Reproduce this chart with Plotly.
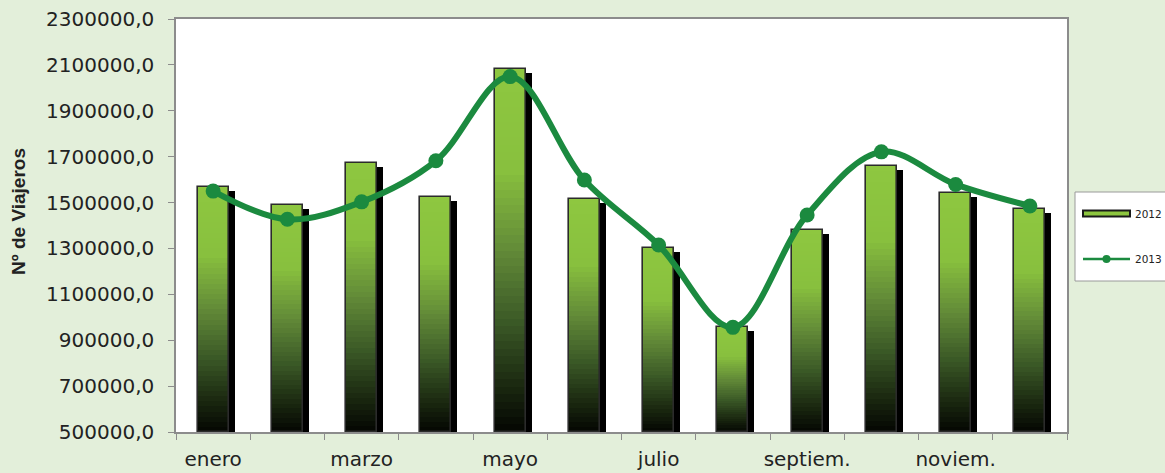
import plotly.graph_objects as go

meses = ["enero", "febrero", "marzo", "abril", "mayo", "junio",
         "julio", "agosto", "septiem.", "octubre", "noviem.", "diciem."]
etiquetas = ["enero", "", "marzo", "", "mayo", "", "julio", "", "septiem.", "", "noviem.", ""]
v2012 = [1569000, 1489000, 1674000, 1525000, 2082000, 1514000,
         1300000, 959000, 1380000, 1660000, 1540000, 1472000]
v2013 = [1550000, 1427000, 1503000, 1682000, 2049000, 1598000,
         1315000, 956000, 1446000, 1721000, 1579000, 1485000]
y_min, y_max, y_step = 500000, 2300000, 200000

BG = "#e3efda"
LINE_C = "#1b8a3f"
FONT = "DejaVu Sans"

W, H = 1165, 473
L, R, T, B = 176, 98, 19, 41
pw, ph = W - L - R, H - T - B
units_per_px = (y_max - y_min) / ph

stops = [(0.0, (4, 6, 2)), (0.12, (25, 38, 15)), (0.3, (58, 88, 38)),
         (0.5, (98, 138, 56)), (0.72, (136, 192, 62)), (1.0, (142, 199, 64))]


def grad(f):
    for (f0, c0), (f1, c1) in zip(stops[:-1], stops[1:]):
        if f <= f1:
            t = (f - f0) / (f1 - f0)
            c = [round(a + (b - a) * t) for a, b in zip(c0, c1)]
            return "rgb(%d,%d,%d)" % tuple(c)
    return "rgb(%d,%d,%d)" % stops[-1][1]


BW = 0.42
fig = go.Figure()

# shadow
shadow_dy = 4 * units_per_px
fig.add_trace(go.Bar(
    x=meses, y=[v - y_min - shadow_dy for v in v2012], base=y_min,
    width=BW, offset=-BW / 2 + 0.08, marker=dict(color="#000000", line=dict(width=0)),
    hoverinfo="skip", showlegend=False))

# gradient bars (nested, tallest first)
N = 48
for k in range(N, 0, -1):
    f = k / N
    fig.add_trace(go.Bar(
        x=meses, y=[(v - y_min) * f for v in v2012], base=y_min,
        width=BW, offset=-BW / 2,
        marker=dict(color=grad(f - 0.5 / N), line=dict(width=0)),
        hoverinfo="skip", showlegend=False))

# outline
fig.add_trace(go.Bar(
    x=meses, y=[v - y_min for v in v2012], base=y_min, name="2012",
    width=BW, offset=-BW / 2,
    marker=dict(color="rgba(0,0,0,0)", line=dict(color="#2b2b2b", width=1.6)),
    showlegend=False))

fig.add_trace(go.Scatter(
    x=meses, y=v2013, name="2013", mode="lines+markers",
    line=dict(color=LINE_C, width=6, shape="spline", smoothing=1.0),
    marker=dict(color=LINE_C, size=15), showlegend=False))


def px_x(p):
    return (p - L) / pw


def px_y(p):
    return (H - B - p) / ph


shapes = [
    dict(type="rect", xref="paper", yref="paper", x0=px_x(1075), x1=px_x(1175),
         y0=px_y(281), y1=px_y(192), line=dict(color="#9a9a9a", width=1), fillcolor="white",
         layer="above"),
    dict(type="rect", xref="paper", yref="paper", x0=px_x(1083), x1=px_x(1130),
         y0=px_y(216.5), y1=px_y(210.5), line=dict(color="#1a1a1a", width=2),
         fillcolor="#8dc63f", layer="above"),
    dict(type="line", xref="paper", yref="paper", x0=px_x(1083), x1=px_x(1130),
         y0=px_y(259), y1=px_y(259), line=dict(color=LINE_C, width=2.5), layer="above"),
    dict(type="circle", xref="paper", yref="paper", x0=px_x(1102.5), x1=px_x(1110.5),
         y0=px_y(263), y1=px_y(255), line=dict(color=LINE_C, width=0),
         fillcolor=LINE_C, layer="above"),
]

annotations = [
    dict(text="<b>Nº de Viajeros</b>", xref="paper", yref="paper", x=px_x(18), y=px_y(212),
         textangle=-90, showarrow=False, xanchor="center", yanchor="middle",
         font=dict(family="Liberation Sans", size=19, color="#222222"))
]
for txt, yy in [("2012", 214), ("2013", 259)]:
    annotations.append(dict(text=txt, xref="paper", yref="paper", x=px_x(1133), y=px_y(yy),
                            showarrow=False, xanchor="left", yanchor="middle",
                            font=dict(family=FONT, size=10.5, color="#222222")))

fig.update_layout(
    width=W, height=H, barmode="overlay", bargap=0,
    margin=dict(l=L, r=R, t=T, b=B, pad=0, autoexpand=False),
    paper_bgcolor=BG, plot_bgcolor="white",
    separators=",.",
    shapes=shapes, annotations=annotations,
    showlegend=False,
    xaxis=dict(type="category", categoryorder="array", categoryarray=meses,
               tickmode="array", tickvals=meses, ticktext=etiquetas,
               tickson="boundaries", ticks="outside", ticklen=6, tickcolor="#8c8c8c",
               showline=True, linecolor="#8c8c8c", linewidth=1.5, mirror=True,
               showgrid=False, tickfont=dict(family=FONT, size=20, color="#222222"),
               tickangle=0, automargin=False,
               ticklabelstandoff=8, range=[-0.5, 11.5]),
    yaxis=dict(range=[y_min, y_max], tick0=y_min, dtick=y_step, tickformat=".1f",
               ticks="outside", ticklen=6, tickcolor="#8c8c8c",
               showline=True, linecolor="#8c8c8c", linewidth=1.5, mirror=True,
               showgrid=False, zeroline=False, automargin=False,
               tickfont=dict(family=FONT, size=20, color="#222222"),
               ticklabelstandoff=10),
)

fig.write_html("out.html", config={"displayModeBar": False},
               post_script="document.body.style.margin='0';document.body.style.overflow='hidden';")
